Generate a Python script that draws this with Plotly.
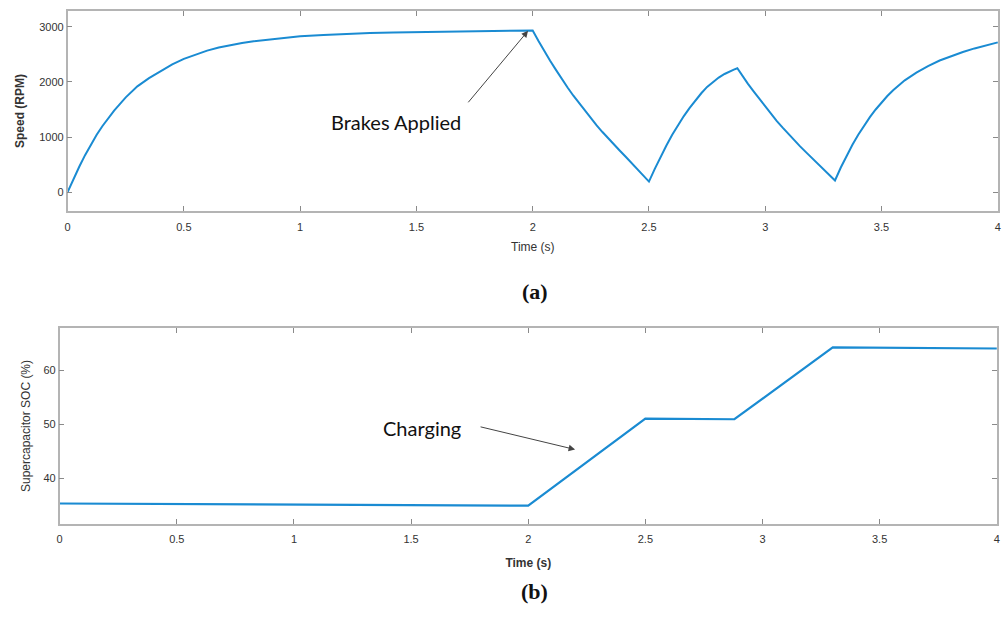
import plotly.graph_objects as go

# Motor speed during the drive / regenerative-braking cycle
speed_time = [0.0, 0.025, 0.05, 0.075, 0.1, 0.125, 0.15, 0.175, 0.2, 0.25, 0.3, 0.35, 0.4, 0.45, 0.5,
              0.55, 0.6, 0.65, 0.7, 0.75, 0.8, 0.9, 1.0, 1.1, 1.2, 1.3, 1.4, 1.5, 1.6, 1.7, 1.8, 1.9, 2.0,
              2.025, 2.05, 2.075, 2.1, 2.125, 2.15, 2.175, 2.2, 2.225, 2.25, 2.275, 2.3, 2.325, 2.35,
              2.375, 2.4, 2.425, 2.45, 2.475, 2.5,
              2.525, 2.55, 2.575, 2.6, 2.625, 2.65, 2.675, 2.7, 2.725, 2.75, 2.775, 2.8, 2.825, 2.85,
              2.865, 2.88,
              2.9, 2.925, 2.95, 2.975, 3.0, 3.025, 3.05, 3.075, 3.1, 3.125, 3.15, 3.175, 3.2, 3.225,
              3.25, 3.275, 3.3,
              3.325, 3.35, 3.375, 3.4, 3.425, 3.45, 3.475, 3.5, 3.525, 3.55, 3.575, 3.6, 3.65, 3.7,
              3.75, 3.8, 3.85, 3.9, 3.95, 4.0]
speed_rpm = [0, 240, 460, 670, 860, 1040, 1200, 1350, 1480, 1720, 1920, 2070, 2200, 2320, 2420,
             2500, 2570, 2625, 2670, 2710, 2740, 2790, 2830, 2855, 2875, 2890, 2900, 2908, 2915, 2920, 2925, 2930, 2935,
             2745, 2560, 2385, 2220, 2055, 1900, 1750, 1610, 1470, 1340, 1210, 1090, 970, 860,
             750, 640, 530, 420, 305, 190,
             420, 640, 845, 1040, 1215, 1380, 1530, 1670, 1795, 1910, 2000, 2080, 2145, 2200,
             2225, 2250,
             2120, 1970, 1830, 1690, 1550, 1420, 1290, 1170, 1050, 940, 830, 725, 620, 520,
             420, 315, 210,
             445, 660, 860, 1040, 1205, 1360, 1500, 1630, 1745, 1850, 1945, 2030, 2170, 2290,
             2390, 2470, 2545, 2610, 2665, 2720]

# Supercapacitor state of charge
soc_time = [0.0, 2.0, 2.5, 2.88, 3.3, 4.0]
soc_pct = [35.3, 34.9, 51.0, 50.9, 64.2, 64.0]

x_ticks = [0, 0.5, 1, 1.5, 2, 2.5, 3, 3.5, 4]
x_tick_text = ["0", "0.5", "1", "1.5", "2", "2.5", "3", "3.5", "4"]
speed_ticks = [0, 1000, 2000, 3000]
soc_ticks = [40, 50, 60]

LINE = "#1a8bd2"
FRAME = "#b4b4b4"
TXT = "#333333"
FONT = "Liberation Sans, Arial, sans-serif"

fig = go.Figure()
fig.add_trace(go.Scatter(x=speed_time, y=speed_rpm, mode="lines", line=dict(color=LINE, width=2),
                         xaxis="x", yaxis="y", showlegend=False, hoverinfo="skip"))
fig.add_trace(go.Scatter(x=soc_time, y=soc_pct, mode="lines", line=dict(color=LINE, width=2.2),
                         xaxis="x2", yaxis="y2", showlegend=False, hoverinfo="skip"))

axis_common = dict(showline=True, linecolor=FRAME, linewidth=1.5, mirror="ticks", ticks="inside",
                   ticklen=5, tickcolor="#8a8a8a", tickwidth=1, showgrid=False, zeroline=False,
                   tickfont=dict(family=FONT, size=11, color=TXT))

fig.update_layout(
    width=1002, height=622,
    margin=dict(l=0, r=0, t=0, b=0),
    paper_bgcolor="white", plot_bgcolor="white",
    xaxis=dict(domain=[65 / 1002, 1001 / 1002], range=[0, 4.001], anchor="y",
               tickvals=x_ticks, ticktext=x_tick_text, ticklabelstandoff=5,
               title=dict(text="Time (s)", font=dict(family=FONT, size=12, color=TXT), standoff=11),
               **axis_common),
    yaxis=dict(domain=[1 - 211 / 622, 1 - 11 / 622], range=[-345, 3290], anchor="x",
               tickvals=speed_ticks,
               title=dict(text="<b>Speed (RPM)</b>", font=dict(family=FONT, size=12, color=TXT), standoff=12),
               **axis_common),
    xaxis2=dict(domain=[57 / 1002, 1000 / 1002], range=[0, 4.001], anchor="y2",
                tickvals=x_ticks, ticktext=x_tick_text, ticklabelstandoff=4,
                title=dict(text="<b>Time (s)</b>", font=dict(family=FONT, size=12, color=TXT), standoff=15),
                **axis_common),
    yaxis2=dict(domain=[1 - 524 / 622, 1 - 328 / 622], range=[31.5, 67.8], anchor="x2",
                tickvals=soc_ticks,
                title=dict(text="Supercapacitor SOC (%)", font=dict(family=FONT, size=12, color=TXT), standoff=10),
                **axis_common),
)

ann_font = dict(family="Lato, Open Sans, sans-serif", size=20, color="#111111")

# Brakes-applied callout
fig.add_annotation(x=1.98, y=2930, xref="x", yref="y", ax=-61, ay=73,
                   text="", showarrow=True, arrowhead=2, arrowsize=1.3, arrowwidth=1, arrowcolor="#444444")
fig.add_annotation(x=395 / 1002, y=1 - 122 / 622, xref="paper", yref="paper", text="Brakes Applied",
                   showarrow=False, font=ann_font, xanchor="center", yanchor="middle")

# Charging callout
fig.add_annotation(x=2.2, y=45.3, xref="x2", yref="y2", ax=-96, ay=-23,
                   text="", showarrow=True, arrowhead=2, arrowsize=1.3, arrowwidth=1, arrowcolor="#444444")
fig.add_annotation(x=422 / 1002, y=1 - 428 / 622, xref="paper", yref="paper", text="Charging",
                   showarrow=False, font=ann_font, xanchor="center", yanchor="middle")

# Panel labels
panel_font = dict(family="Liberation Serif, DejaVu Serif, serif", size=22, color="#111111")
fig.add_annotation(x=535 / 1002, y=1 - 291 / 622, xref="paper", yref="paper", text="<b>(a)</b>",
                   showarrow=False, font=panel_font)
fig.add_annotation(x=535 / 1002, y=1 - 606 / 622, xref="paper", yref="paper", text="<b>(b)</b>",
                   showarrow=False, font=panel_font)

fig.write_html("out.html")
